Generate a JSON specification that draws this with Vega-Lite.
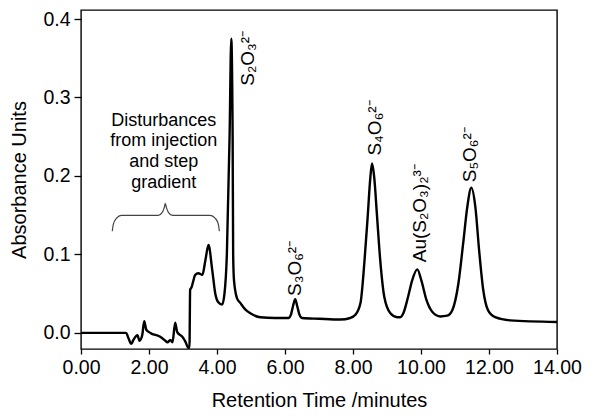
{
  "$schema": "https://vega.github.io/schema/vega-lite/v6.json",
  "width": 476,
  "height": 339,
  "autosize": {"type": "none"},
  "padding": {"left": 81, "top": 10, "right": 34, "bottom": 69},
  "background": "white",
  "config": {
    "font": "Liberation Sans",
    "view": {"stroke": "black", "strokeWidth": 1.4},
    "axis": {
      "grid": false,
      "domain": false,
      "tickColor": "black",
      "tickWidth": 1.3,
      "labelColor": "black",
      "titleColor": "black",
      "labelFont": "Liberation Sans",
      "titleFont": "Liberation Sans",
      "labelFontSize": 19.5,
      "titleFontSize": 20,
      "titleFontWeight": "normal",
      "labelFlush": false,
      "labelOverlap": false
    }
  },
  "datasets": {
    "trace": [
      {"t": 0.00, "a": 0.000}, {"t": 1.33, "a": 0.000}, {"t": 1.39, "a": -0.006}, {"t": 1.48, "a": -0.014},
      {"t": 1.54, "a": -0.009}, {"t": 1.66, "a": -0.003}, {"t": 1.72, "a": -0.010}, {"t": 1.80, "a": -0.003},
      {"t": 1.86, "a": 0.015}, {"t": 1.92, "a": 0.004}, {"t": 2.04, "a": 0.000}, {"t": 2.33, "a": -0.005},
      {"t": 2.48, "a": -0.010}, {"t": 2.54, "a": -0.012}, {"t": 2.63, "a": -0.009}, {"t": 2.69, "a": -0.012},
      {"t": 2.77, "a": 0.013}, {"t": 2.83, "a": 0.001}, {"t": 2.98, "a": -0.005}, {"t": 3.07, "a": -0.011},
      {"t": 3.16, "a": -0.019}, {"t": 3.19, "a": -0.019}, {"t": 3.21, "a": 0.055}, {"t": 3.25, "a": 0.058},
      {"t": 3.29, "a": 0.064}, {"t": 3.36, "a": 0.074}, {"t": 3.45, "a": 0.076}, {"t": 3.57, "a": 0.074},
      {"t": 3.66, "a": 0.093}, {"t": 3.75, "a": 0.112}, {"t": 3.86, "a": 0.080}, {"t": 3.95, "a": 0.050},
      {"t": 4.04, "a": 0.039}, {"t": 4.15, "a": 0.036}, {"t": 4.22, "a": 0.050}, {"t": 4.29, "a": 0.100},
      {"t": 4.37, "a": 0.250}, {"t": 4.42, "a": 0.375}, {"t": 4.46, "a": 0.250}, {"t": 4.475, "a": 0.100},
      {"t": 4.50, "a": 0.067}, {"t": 4.59, "a": 0.044}, {"t": 4.69, "a": 0.038}, {"t": 4.83, "a": 0.030},
      {"t": 4.98, "a": 0.025}, {"t": 5.27, "a": 0.020}, {"t": 5.70, "a": 0.019}, {"t": 6.10, "a": 0.019},
      {"t": 6.18, "a": 0.024}, {"t": 6.24, "a": 0.035}, {"t": 6.30, "a": 0.043}, {"t": 6.36, "a": 0.034},
      {"t": 6.42, "a": 0.024}, {"t": 6.50, "a": 0.019}, {"t": 7.00, "a": 0.018}, {"t": 7.63, "a": 0.017},
      {"t": 7.92, "a": 0.019}, {"t": 8.07, "a": 0.023}, {"t": 8.22, "a": 0.038}, {"t": 8.34, "a": 0.093},
      {"t": 8.43, "a": 0.147}, {"t": 8.51, "a": 0.198}, {"t": 8.56, "a": 0.216}, {"t": 8.62, "a": 0.200},
      {"t": 8.71, "a": 0.147}, {"t": 8.80, "a": 0.093}, {"t": 8.92, "a": 0.046}, {"t": 9.10, "a": 0.025},
      {"t": 9.30, "a": 0.020}, {"t": 9.39, "a": 0.020}, {"t": 9.48, "a": 0.025}, {"t": 9.62, "a": 0.046},
      {"t": 9.74, "a": 0.067}, {"t": 9.89, "a": 0.081}, {"t": 10.01, "a": 0.067}, {"t": 10.16, "a": 0.042},
      {"t": 10.33, "a": 0.027}, {"t": 10.57, "a": 0.021}, {"t": 10.77, "a": 0.022}, {"t": 10.92, "a": 0.029},
      {"t": 11.10, "a": 0.063}, {"t": 11.24, "a": 0.114}, {"t": 11.36, "a": 0.160}, {"t": 11.48, "a": 0.185},
      {"t": 11.60, "a": 0.160}, {"t": 11.71, "a": 0.105}, {"t": 11.83, "a": 0.055}, {"t": 11.97, "a": 0.029},
      {"t": 12.18, "a": 0.020}, {"t": 12.62, "a": 0.016}, {"t": 14.00, "a": 0.014}
    ],
    "brace": [
      {"o": 1, "t": 0.92, "a": 0.1295}, {"o": 2, "t": 0.95, "a": 0.1384}, {"o": 3, "t": 1.04, "a": 0.146},
      {"o": 4, "t": 1.185, "a": 0.1498}, {"o": 5, "t": 2.27, "a": 0.1498}, {"o": 6, "t": 2.39, "a": 0.1537},
      {"o": 7, "t": 2.45, "a": 0.16}, {"o": 8, "t": 2.48, "a": 0.1651}, {"o": 9, "t": 2.51, "a": 0.16},
      {"o": 10, "t": 2.57, "a": 0.1537}, {"o": 11, "t": 2.69, "a": 0.1498}, {"o": 12, "t": 3.80, "a": 0.1498},
      {"o": 13, "t": 3.95, "a": 0.146}, {"o": 14, "t": 4.04, "a": 0.1384}, {"o": 15, "t": 4.07, "a": 0.1295}
    ],
    "peaks": [
      {"t": 4.92, "a": 0.315, "label": "S₂O₃²⁻"},
      {"t": 6.30, "a": 0.047, "label": "S₃O₆²⁻"},
      {"t": 8.66, "a": 0.226, "label": "S₄O₆²⁻"},
      {"t": 9.98, "a": 0.090, "label": "Au(S₂O₃)₂³⁻"},
      {"t": 11.45, "a": 0.192, "label": "S₅O₆²⁻"}
    ],
    "note": [
      {"t": 2.435, "a": 0.2641, "line": "Disturbances"},
      {"t": 2.435, "a": 0.2387, "line": "from injection"},
      {"t": 2.435, "a": 0.2108, "line": "and step"},
      {"t": 2.435, "a": 0.1841, "line": "gradient"}
    ]
  },
  "encoding": {
    "x": {
      "field": "t", "type": "quantitative",
      "scale": {"domain": [0, 14], "nice": false, "zero": false},
      "axis": {"title": "Retention Time /minutes", "values": [0, 2, 4, 6, 8, 10, 12, 14], "format": ".2f",
               "tickSize": 5, "labelPadding": 4, "titlePadding": 14}
    },
    "y": {
      "field": "a", "type": "quantitative",
      "scale": {"domain": [-0.0205, 0.4115], "nice": false, "zero": false},
      "axis": {"title": "Absorbance Units", "values": [0, 0.1, 0.2, 0.3, 0.4], "format": ".1f",
               "tickSize": 7, "labelPadding": 4, "titlePadding": 13}
    }
  },
  "layer": [
    {
      "data": {"name": "trace"},
      "mark": {"type": "line", "color": "black", "strokeWidth": 2.4, "interpolate": "monotone"}
    },
    {
      "data": {"name": "brace"},
      "mark": {"type": "line", "color": "#444444", "strokeWidth": 1.2, "interpolate": "monotone"},
      "encoding": {"order": {"field": "o", "type": "quantitative"}}
    },
    {
      "data": {"name": "peaks"},
      "mark": {"type": "text", "angle": 270, "align": "left", "baseline": "middle", "fontSize": 19, "color": "black", "font": "Liberation Sans"},
      "encoding": {"text": {"field": "label"}}
    },
    {
      "data": {"name": "note"},
      "mark": {"type": "text", "align": "center", "baseline": "alphabetic", "fontSize": 18, "color": "black", "font": "Liberation Sans"},
      "encoding": {"text": {"field": "line"}}
    }
  ]
}
